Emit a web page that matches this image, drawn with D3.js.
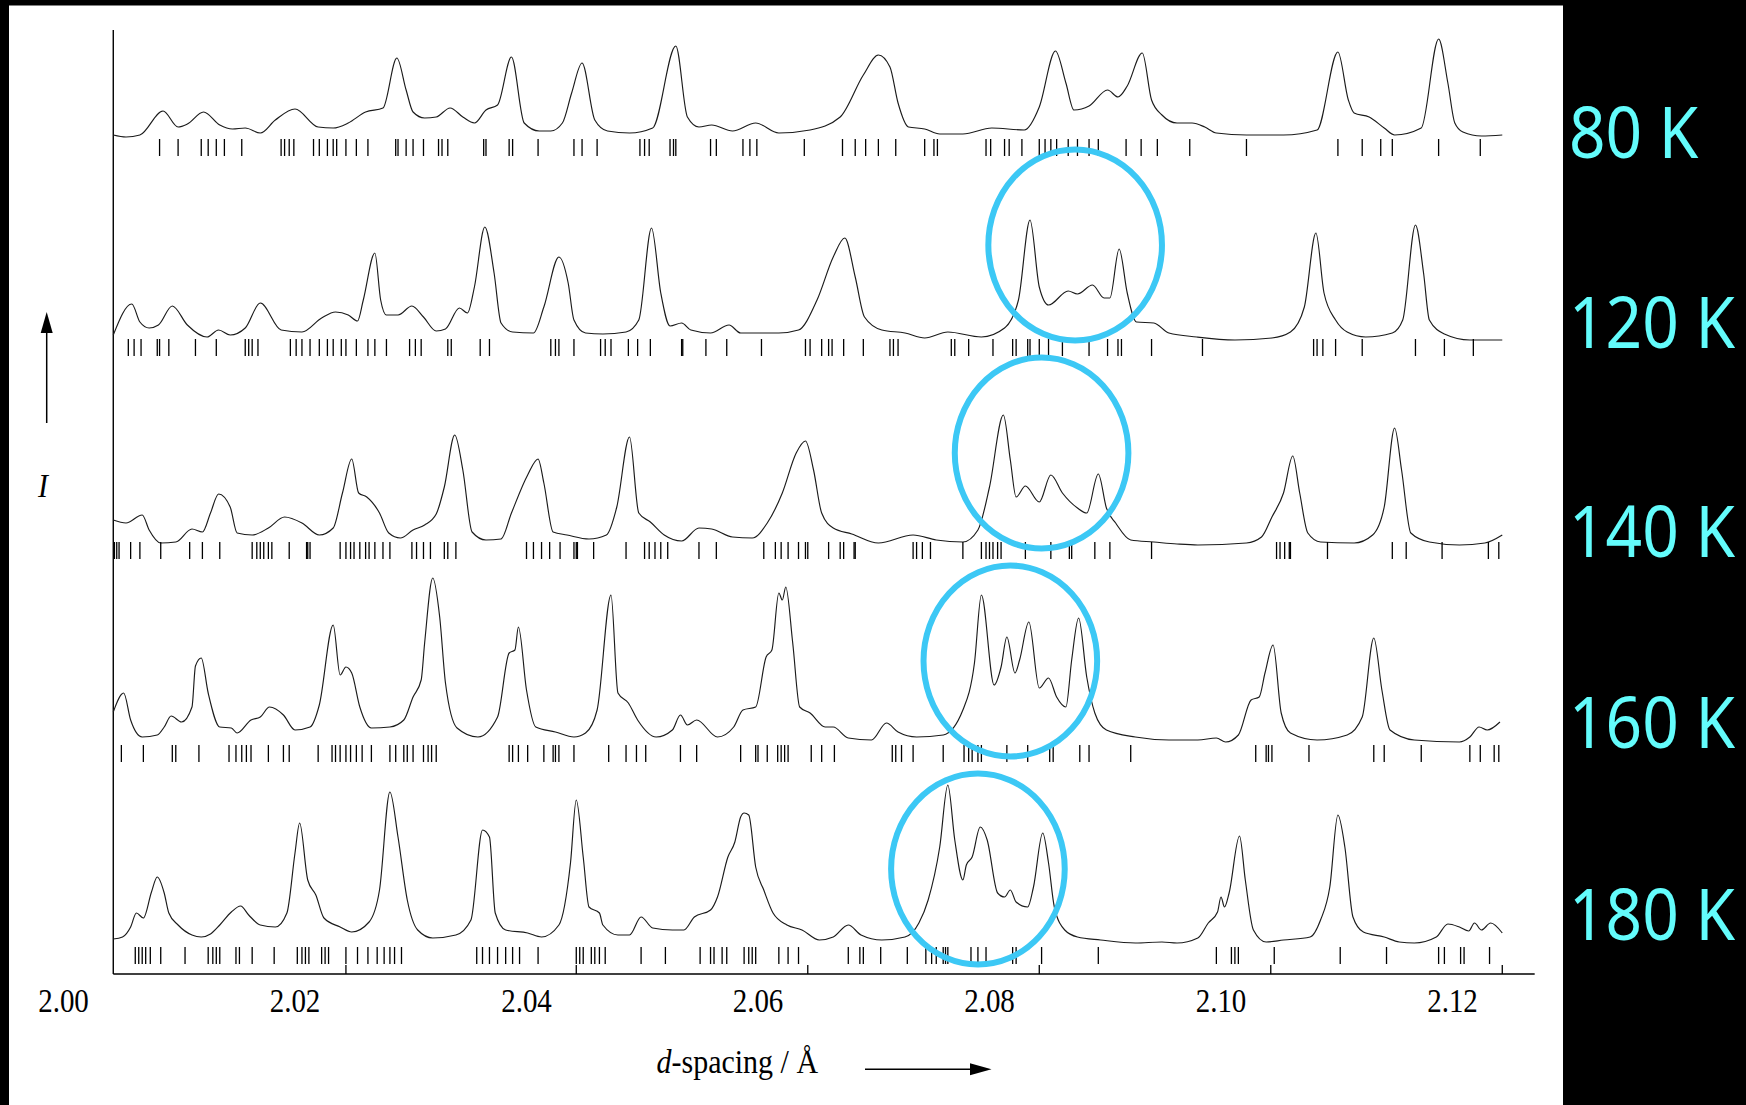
<!DOCTYPE html>
<html>
<head>
<meta charset="utf-8">
<script src="https://cdn.jsdelivr.net/npm/d3@7"></script>
<style>
    html, body { margin: 0; padding: 0; background: #000; }
    svg { display: block; }
</style>
</head>
<body>
<div id="chart"></div>
<script>

// x axis labels (d-spacing, Angstrom)
var tickValues = [2.00, 2.02, 2.04, 2.06, 2.08, 2.10, 2.12];
// small ticks on the d axis
var axisMarks = [2.0244, 2.0443, 2.0643, 2.0843, 2.1043, 2.1243];

var temperatures = ["80 K", "120 K", "140 K", "160 K", "180 K"];
// vertical stacking offset of each pattern, intensity units
var patternOffsets = [839, 634, 429, 232, 30];

// measured patterns [d, intensity]
var trace80 = [[2.0043,0],[2.0054,-2],[2.0066,0],[2.0086,24],[2.0099,8],[2.0107,11],[2.0121,23],[2.0135,10],[2.0146,6],[2.0157,7],[2.0170,2],[2.0183,15],[2.0200,26],[2.0220,8],[2.0233,7],[2.0246,12],[2.0261,23],[2.0276,27],[2.0288,77],[2.0296,45],[2.0302,23],[2.0312,17],[2.0322,18],[2.0334,27],[2.0345,18],[2.0355,12],[2.0365,25],[2.0375,30],[2.0387,78],[2.0398,12],[2.0411,4],[2.0421,4],[2.0431,12],[2.0439,42],[2.0448,72],[2.0459,15],[2.0470,4],[2.0489,2],[2.0509,7],[2.0529,89],[2.0539,18],[2.0549,8],[2.0560,10],[2.0578,4],[2.0598,12],[2.0618,2],[2.0645,5],[2.0671,18],[2.0691,60],[2.0704,80],[2.0714,68],[2.0721,32],[2.0730,8],[2.0744,6],[2.0757,1],[2.0777,1],[2.0802,7],[2.0830,5],[2.0843,28],[2.0857,84],[2.0866,52],[2.0873,25],[2.0886,29],[2.0902,45],[2.0911,38],[2.0919,49],[2.0932,82],[2.0940,35],[2.0949,20],[2.0962,12],[2.0975,12],[2.0986,8],[2.0996,2],[2.1022,0],[2.1054,0],[2.1083,5],[2.1101,83],[2.1110,35],[2.1115,22],[2.1128,18],[2.1141,7],[2.1150,0],[2.1173,7],[2.1188,96],[2.1196,52],[2.1202,12],[2.1209,3],[2.1225,-1],[2.1243,0]];

var trace120 = [[2.0043,5],[2.0059,36],[2.0066,18],[2.0074,12],[2.0082,15],[2.0094,34],[2.0107,15],[2.0124,3],[2.0134,10],[2.0144,5],[2.0157,12],[2.0170,37],[2.0188,10],[2.0206,8],[2.0223,22],[2.0235,28],[2.0246,25],[2.0254,19],[2.0259,40],[2.0269,87],[2.0274,40],[2.0279,25],[2.0289,25],[2.0301,34],[2.0311,23],[2.0322,9],[2.0330,11],[2.0342,32],[2.0349,27],[2.0355,53],[2.0364,113],[2.0372,67],[2.0378,17],[2.0388,8],[2.0406,7],[2.0415,33],[2.0428,83],[2.0436,57],[2.0441,20],[2.0451,7],[2.0466,6],[2.0486,8],[2.0497,20],[2.0508,112],[2.0516,47],[2.0524,14],[2.0534,17],[2.0542,10],[2.0559,7],[2.0575,15],[2.0585,7],[2.0618,7],[2.0635,10],[2.0651,40],[2.0665,83],[2.0675,102],[2.0684,63],[2.0692,23],[2.0707,10],[2.0727,7],[2.0744,2],[2.0764,8],[2.0793,3],[2.0813,12],[2.0825,40],[2.0835,120],[2.0843,53],[2.0851,35],[2.0868,49],[2.0876,46],[2.0889,55],[2.0899,42],[2.0904,42],[2.0912,91],[2.0919,47],[2.0927,18],[2.0942,17],[2.0955,7],[2.0979,3],[2.1012,0],[2.1044,2],[2.1060,8],[2.1072,33],[2.1082,107],[2.1089,47],[2.1099,20],[2.1109,8],[2.1125,3],[2.1148,7],[2.1157,20],[2.1168,115],[2.1175,67],[2.1180,20],[2.1193,6],[2.1215,0],[2.1243,0]];

var trace140 = [[2.0043,25],[2.0054,22],[2.0068,30],[2.0074,15],[2.0084,2],[2.0097,3],[2.0111,16],[2.0120,13],[2.0127,32],[2.0134,51],[2.0144,38],[2.0150,12],[2.0163,10],[2.0177,17],[2.0191,28],[2.0206,22],[2.0221,10],[2.0233,17],[2.0241,52],[2.0249,86],[2.0255,52],[2.0262,48],[2.0273,32],[2.0281,12],[2.0291,7],[2.0302,15],[2.0312,20],[2.0322,31],[2.0329,58],[2.0338,110],[2.0345,75],[2.0353,13],[2.0365,5],[2.0378,6],[2.0387,32],[2.0401,70],[2.0410,86],[2.0415,62],[2.0423,13],[2.0435,10],[2.0454,6],[2.0469,10],[2.0478,38],[2.0489,108],[2.0497,32],[2.0507,23],[2.0519,10],[2.0534,4],[2.0549,17],[2.0560,16],[2.0578,8],[2.0595,7],[2.0608,22],[2.0621,52],[2.0633,92],[2.0641,104],[2.0648,75],[2.0655,32],[2.0665,17],[2.0681,11],[2.0704,2],[2.0734,10],[2.0754,5],[2.0777,3],[2.0790,15],[2.0800,58],[2.0812,130],[2.0818,85],[2.0823,48],[2.0831,59],[2.0843,43],[2.0853,70],[2.0863,52],[2.0876,37],[2.0884,32],[2.0894,71],[2.0901,37],[2.0909,22],[2.0922,5],[2.0942,3],[2.0962,1],[2.0980,0],[2.1022,2],[2.1035,8],[2.1044,28],[2.1054,52],[2.1062,89],[2.1068,52],[2.1075,12],[2.1086,3],[2.1115,2],[2.1131,10],[2.1141,38],[2.1150,117],[2.1156,75],[2.1164,12],[2.1180,3],[2.1206,0],[2.1228,2],[2.1243,10]];

var trace160 = [[2.0043,30],[2.0052,49],[2.0058,22],[2.0068,5],[2.0081,7],[2.0087,15],[2.0093,26],[2.0102,20],[2.0111,35],[2.0114,76],[2.0119,84],[2.0125,49],[2.0135,15],[2.0145,14],[2.0150,9],[2.0162,22],[2.0170,25],[2.0178,35],[2.0190,27],[2.0200,12],[2.0213,15],[2.0221,37],[2.0233,117],[2.0239,67],[2.0244,75],[2.0249,69],[2.0256,35],[2.0266,14],[2.0282,15],[2.0294,22],[2.0302,45],[2.0309,62],[2.0312,99],[2.0319,164],[2.0325,125],[2.0330,59],[2.0340,14],[2.0358,5],[2.0375,25],[2.0385,89],[2.0390,92],[2.0393,115],[2.0400,52],[2.0408,15],[2.0425,10],[2.0441,5],[2.0451,9],[2.0461,32],[2.0473,147],[2.0479,49],[2.0488,39],[2.0496,22],[2.0512,5],[2.0526,12],[2.0533,27],[2.0539,17],[2.0547,22],[2.0565,5],[2.0579,15],[2.0587,32],[2.0598,35],[2.0607,85],[2.0612,92],[2.0618,149],[2.0621,142],[2.0624,155],[2.0630,99],[2.0636,35],[2.0645,29],[2.0658,15],[2.0665,15],[2.0678,4],[2.0698,2],[2.0711,19],[2.0721,10],[2.0737,5],[2.0760,7],[2.0777,32],[2.0787,79],[2.0793,147],[2.0804,57],[2.0810,75],[2.0815,105],[2.0822,69],[2.0826,82],[2.0834,120],[2.0843,54],[2.0851,64],[2.0858,45],[2.0866,35],[2.0871,82],[2.0877,124],[2.0884,65],[2.0891,29],[2.0901,12],[2.0926,5],[2.0955,2],[2.0980,2],[2.0996,4],[2.1004,0],[2.1015,7],[2.1026,42],[2.1033,45],[2.1038,69],[2.1045,97],[2.1052,29],[2.1060,9],[2.1083,2],[2.1109,7],[2.1122,25],[2.1132,104],[2.1139,52],[2.1146,12],[2.1167,2],[2.1206,0],[2.1215,5],[2.1223,15],[2.1230,12],[2.1241,20]];

var trace180 = [[2.0043,5],[2.0051,7],[2.0058,17],[2.0063,31],[2.0069,26],[2.0076,52],[2.0081,67],[2.0087,51],[2.0091,31],[2.0099,19],[2.0111,9],[2.0119,7],[2.0127,10],[2.0135,19],[2.0145,32],[2.0153,38],[2.0160,29],[2.0170,19],[2.0183,17],[2.0193,31],[2.0200,91],[2.0204,121],[2.0211,64],[2.0218,49],[2.0225,26],[2.0239,17],[2.0249,12],[2.0264,22],[2.0273,54],[2.0282,152],[2.0289,107],[2.0297,44],[2.0306,14],[2.0319,6],[2.0339,9],[2.0352,24],[2.0362,114],[2.0368,107],[2.0373,31],[2.0382,14],[2.0401,11],[2.0413,7],[2.0428,19],[2.0438,81],[2.0443,144],[2.0449,87],[2.0454,37],[2.0463,31],[2.0466,19],[2.0479,9],[2.0489,9],[2.0499,27],[2.0509,16],[2.0526,14],[2.0536,14],[2.0545,27],[2.0559,34],[2.0565,47],[2.0574,87],[2.0580,102],[2.0585,127],[2.0588,131],[2.0592,129],[2.0598,77],[2.0605,54],[2.0613,31],[2.0625,19],[2.0638,14],[2.0653,4],[2.0665,7],[2.0678,19],[2.0689,9],[2.0707,4],[2.0727,7],[2.0739,21],[2.0747,44],[2.0757,97],[2.0764,159],[2.0770,104],[2.0777,64],[2.0780,79],[2.0785,87],[2.0792,117],[2.0798,104],[2.0807,51],[2.0813,47],[2.0818,54],[2.0823,42],[2.0833,37],[2.0838,57],[2.0846,111],[2.0851,81],[2.0856,37],[2.0865,14],[2.0876,7],[2.0896,4],[2.0926,1],[2.0949,2],[2.0962,1],[2.0980,6],[2.0989,21],[2.0997,32],[2.1000,47],[2.1003,37],[2.1007,51],[2.1016,108],[2.1021,64],[2.1028,14],[2.1039,2],[2.1054,4],[2.1077,7],[2.1086,24],[2.1094,57],[2.1101,129],[2.1107,97],[2.1114,27],[2.1123,12],[2.1141,7],[2.1154,2],[2.1167,1],[2.1186,7],[2.1196,20],[2.1206,17],[2.1214,13],[2.1219,21],[2.1225,14],[2.1233,21],[2.1243,11]];

// calculated reflection positions under each pattern
var ticks80 = [2.0083,2.0099,2.0119,2.0125,2.0132,2.0139,2.0154,2.0188,2.0191,2.0195,2.0199,2.0216,2.0221,2.0228,2.0233,2.0236,2.0244,2.0253,2.0263,2.0287,2.0289,2.0296,2.0302,2.0311,2.0324,2.0327,2.0332,2.0363,2.0365,2.0385,2.0388,2.0410,2.0441,2.0448,2.0461,2.0498,2.0502,2.0506,2.0524,2.0527,2.0529,2.0559,2.0564,2.0587,2.0593,2.0599,2.0640,2.0673,2.0684,2.0693,2.0704,2.0719,2.0744,2.0752,2.0755,2.0797,2.0801,2.0813,2.0817,2.0828,2.0843,2.0848,2.0853,2.0858,2.0868,2.0876,2.0886,2.0894,2.0918,2.0931,2.0945,2.0973,2.1022,2.1101,2.1122,2.1138,2.1148,2.1188,2.1224];
var ticks120 = [2.0056,2.0061,2.0067,2.0081,2.0083,2.0091,2.0114,2.0132,2.0157,2.0160,2.0163,2.0168,2.0196,2.0201,2.0206,2.0213,2.0221,2.0228,2.0233,2.0240,2.0244,2.0253,2.0263,2.0269,2.0279,2.0299,2.0304,2.0309,2.0332,2.0335,2.0360,2.0368,2.0421,2.0425,2.0428,2.0441,2.0464,2.0468,2.0473,2.0488,2.0496,2.0507,2.0534,2.0535,2.0555,2.0573,2.0603,2.0641,2.0645,2.0655,2.0661,2.0664,2.0674,2.0691,2.0714,2.0717,2.0721,2.0767,2.0770,2.0782,2.0803,2.0820,2.0823,2.0833,2.0835,2.0843,2.0851,2.0863,2.0886,2.0902,2.0911,2.0914,2.0940,2.0984,2.1080,2.1083,2.1088,2.1099,2.1122,2.1168,2.1193,2.1218];
var ticks140 = [2.0044,2.0046,2.0048,2.0058,2.0066,2.0084,2.0109,2.0120,2.0135,2.0163,2.0167,2.0170,2.0173,2.0177,2.0180,2.0195,2.0210,2.0211,2.0213,2.0239,2.0244,2.0248,2.0251,2.0256,2.0261,2.0264,2.0269,2.0276,2.0282,2.0301,2.0305,2.0311,2.0317,2.0329,2.0332,2.0339,2.0400,2.0406,2.0413,2.0420,2.0429,2.0441,2.0443,2.0444,2.0458,2.0486,2.0502,2.0506,2.0511,2.0516,2.0522,2.0549,2.0564,2.0605,2.0615,2.0620,2.0626,2.0635,2.0641,2.0643,2.0661,2.0671,2.0674,2.0683,2.0684,2.0734,2.0737,2.0742,2.0749,2.0777,2.0793,2.0797,2.0800,2.0803,2.0807,2.0810,2.0831,2.0853,2.0869,2.0871,2.0891,2.0904,2.0940,2.1048,2.1051,2.1055,2.1059,2.1060,2.1092,2.1148,2.1160,2.1191,2.1231,2.1240];
var ticks160 = [2.0050,2.0069,2.0094,2.0097,2.0117,2.0143,2.0149,2.0154,2.0158,2.0162,2.0177,2.0190,2.0195,2.0220,2.0232,2.0235,2.0239,2.0244,2.0248,2.0253,2.0258,2.0266,2.0282,2.0287,2.0294,2.0297,2.0302,2.0311,2.0315,2.0318,2.0322,2.0385,2.0388,2.0393,2.0401,2.0415,2.0423,2.0425,2.0428,2.0441,2.0471,2.0486,2.0495,2.0503,2.0533,2.0547,2.0585,2.0598,2.0600,2.0608,2.0617,2.0620,2.0623,2.0626,2.0646,2.0655,2.0666,2.0716,2.0719,2.0724,2.0734,2.0760,2.0778,2.0782,2.0785,2.0790,2.0793,2.0815,2.0833,2.0852,2.0855,2.0878,2.0886,2.0922,2.1030,2.1039,2.1041,2.1044,2.1076,2.1132,2.1141,2.1173,2.1215,2.1224,2.1236,2.1240];
var ticks180 = [2.0062,2.0065,2.0068,2.0071,2.0075,2.0084,2.0105,2.0125,2.0129,2.0132,2.0135,2.0149,2.0152,2.0163,2.0182,2.0202,2.0206,2.0209,2.0212,2.0223,2.0226,2.0229,2.0244,2.0254,2.0263,2.0271,2.0277,2.0282,2.0286,2.0292,2.0357,2.0362,2.0368,2.0375,2.0382,2.0388,2.0394,2.0410,2.0443,2.0446,2.0449,2.0456,2.0459,2.0463,2.0468,2.0499,2.0520,2.0550,2.0559,2.0562,2.0569,2.0573,2.0588,2.0592,2.0595,2.0598,2.0618,2.0626,2.0635,2.0678,2.0688,2.0691,2.0706,2.0729,2.0745,2.0750,2.0754,2.0760,2.0762,2.0764,2.0784,2.0790,2.0797,2.0820,2.0823,2.0845,2.0894,2.0996,2.1009,2.1012,2.1015,2.1046,2.1103,2.1143,2.1188,2.1193,2.1207,2.1210,2.1232];

// highlighted split peaks: pattern index, centre d, centre intensity above pattern
var ringPattern = [1, 2, 3, 4];
var ringD = [2.0874, 2.0845, 2.0818, 2.0790];
var ringI = [95, 92, 81, 75];
var ringHalfWidthD = 0.0075;
var ringHalfHeightI = 95.5;

var traces = [trace80, trace120, trace140, trace160, trace180];
var tickSets = [ticks80, ticks120, ticks140, ticks160, ticks180];

var width = 1746, height = 1105;

// pixel layout of the panel
var tickRowTop = [139, 339, 542, 745, 947];
var labelBaseline = [158, 348, 557, 748, 940];

var svg = d3.select("#chart").append("svg")
    .attr("width", width)
    .attr("height", height);

svg.append("rect").attr("width", width).attr("height", height).attr("fill", "#000");
svg.append("rect")
    .attr("x", 9).attr("y", 5.5)
    .attr("width", 1554).attr("height", height - 5.5)
    .attr("fill", "#fff");

var x = d3.scaleLinear().domain([2.00, 2.12]).range([63.5, 1452.5]);
var y = d3.scaleLinear().domain([0, 944]).range([974, 30]);

var dStart = 2.0043, dEnd = 2.1271;

// axes
svg.append("line")
    .attr("x1", x(dStart)).attr("x2", x(dStart))
    .attr("y1", y(944)).attr("y2", y(0))
    .attr("stroke", "#000").attr("stroke-width", 1.4);
svg.append("line")
    .attr("x1", x(dStart)).attr("x2", x(dEnd))
    .attr("y1", y(0)).attr("y2", y(0))
    .attr("stroke", "#000").attr("stroke-width", 1.4);

svg.append("g").selectAll("line")
    .data(axisMarks)
    .enter().append("line")
        .attr("x1", function(d) { return x(d); })
        .attr("x2", function(d) { return x(d); })
        .attr("y1", y(0)).attr("y2", y(9))
        .attr("stroke", "#000").attr("stroke-width", 1.3);

svg.append("g").selectAll("text")
    .data(tickValues)
    .enter().append("text")
        .attr("transform", function(d) { return "translate(" + x(d) + "," + 1012 + ") scale(1,1.15)"; })
        .attr("text-anchor", "middle")
        .style("font-family", "'Liberation Serif', 'Times New Roman', serif")
        .style("font-size", "29px")
        .attr("fill", "#000")
        .text(function(d) { return d.toFixed(2); });

// axis titles and arrows
var xTitle = svg.append("text")
    .attr("transform", "translate(656.5,1073) scale(1,1.12)")
    .style("font-family", "'Liberation Serif', 'Times New Roman', serif")
    .style("font-size", "30px")
    .attr("fill", "#000");
xTitle.append("tspan").style("font-style", "italic").text("d");
xTitle.append("tspan").text("-spacing / \u00C5");

svg.append("line")
    .attr("x1", 865).attr("x2", 975)
    .attr("y1", 1069.3).attr("y2", 1069.3)
    .attr("stroke", "#000").attr("stroke-width", 1.5);
svg.append("path")
    .attr("d", "M991.5,1069.3 L970,1063.3 L970,1075.3 Z")
    .attr("fill", "#000");

svg.append("text")
    .attr("transform", "translate(43,497) scale(1,1.1)")
    .attr("text-anchor", "middle")
    .style("font-family", "'Liberation Serif', 'Times New Roman', serif")
    .style("font-style", "italic")
    .style("font-size", "30px")
    .attr("fill", "#000")
    .text("I");

svg.append("line")
    .attr("x1", 46.7).attr("x2", 46.7)
    .attr("y1", 423).attr("y2", 328)
    .attr("stroke", "#000").attr("stroke-width", 1.5);
svg.append("path")
    .attr("d", "M46.7,312 L40.7,333 L52.7,333 Z")
    .attr("fill", "#000");

// patterns
var line = d3.line()
    .x(function(d) { return x(d[0]); })
    .curve(d3.curveMonotoneX);

var patterns = svg.append("g").attr("class", "patterns");

traces.forEach(function(trace, k) {
    var off = patternOffsets[k];
    line.y(function(d) { return y(d[1] + off); });

    patterns.append("path")
        .datum(trace)
        .attr("d", line)
        .attr("fill", "none")
        .attr("stroke", "#1b1b1b")
        .attr("stroke-width", 1.15)
        .attr("stroke-linejoin", "round");

    patterns.append("g").selectAll("line")
        .data(tickSets[k])
        .enter().append("line")
            .attr("x1", function(d) { return x(d); })
            .attr("x2", function(d) { return x(d); })
            .attr("y1", tickRowTop[k])
            .attr("y2", tickRowTop[k] + 17)
            .attr("stroke", "#000")
            .attr("stroke-width", 1.3);
});

// temperature labels
svg.append("g").selectAll("text")
    .data(temperatures)
    .enter().append("text")
        .attr("transform", function(d, i) { return "translate(1569," + labelBaseline[i] + ") scale(1,1.1)"; })
        .style("font-family", "'Noto Sans', sans-serif")
        .style("font-size", "64px")
        .attr("fill", "#63fcfc")
        .text(function(d) { return d; });

// rings around the splitting peaks
svg.append("g").selectAll("ellipse")
    .data(ringD)
    .enter().append("ellipse")
        .attr("cx", function(d) { return x(d); })
        .attr("cy", function(d, i) { return y(ringI[i] + patternOffsets[ringPattern[i]]); })
        .attr("rx", x(2 + ringHalfWidthD) - x(2))
        .attr("ry", y(0) - y(ringHalfHeightI))
        .attr("fill", "none")
        .attr("stroke", "#3cc8f5")
        .attr("stroke-width", 6);

</script>
</body>
</html>
